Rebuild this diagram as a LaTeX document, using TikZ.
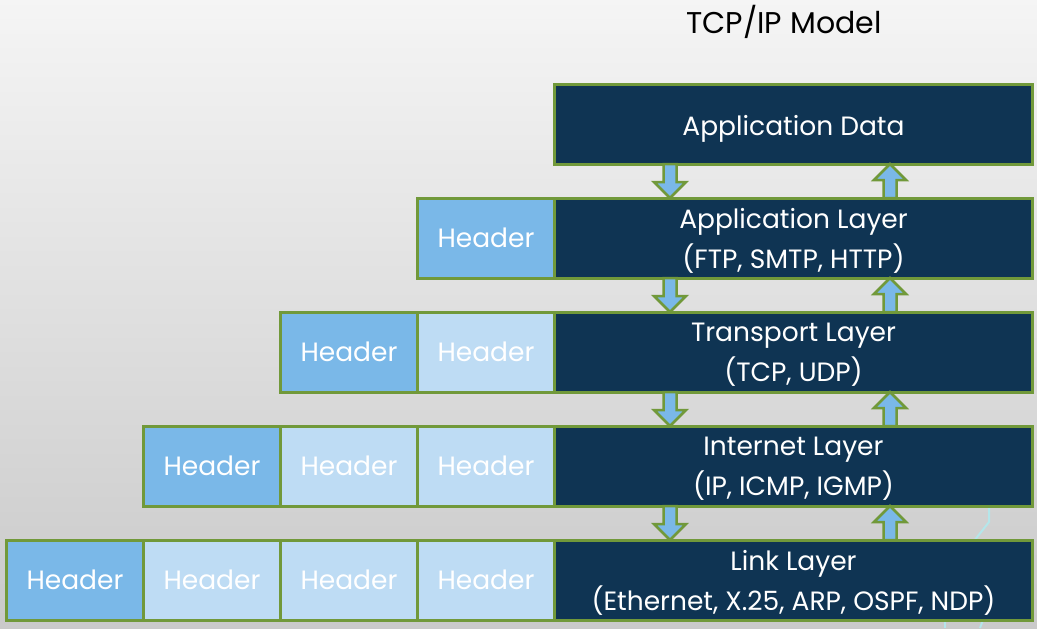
\documentclass[tikz,border=0pt]{standalone}
\usepackage{fontspec}
\setmainfont{Poppins}
\usetikzlibrary{positioning,calc}

\definecolor{navy}{HTML}{0F3453}
\definecolor{edge}{HTML}{71993A}
\definecolor{hdrblue}{HTML}{7AB8E8}
\definecolor{hdrpale}{HTML}{BEDCF4}
\definecolor{trace}{HTML}{B4E6EA}

\begin{document}
\begin{tikzpicture}[
  x=1pt, y=-1pt,
  box/.style={draw=edge, line width=3pt, text=white, minimum height=80pt,
    inner sep=0pt, outer sep=0pt, align=center, font=\fontsize{26.5}{40}\selectfont},
  layerbox/.style={box, fill=navy, minimum width=478pt, text depth=-1pt},
  hdr/.style={box, fill=hdrblue, minimum width=137pt},
  hdrlight/.style={hdr, fill=hdrpale},
  blockarrow/.style={draw=edge, fill=hdrblue, line width=2.5pt, line join=miter,
    to path={let \p1=(\tikztostart), \p2=(\tikztotarget), \p3=($(\tikztotarget)!16pt!(\tikztostart)$) in
      ({\x1-6.5pt},\y1) -- ({\x1-6.5pt},\y3) -- ({\x1-16pt},\y3) -- (\x2,\y2)
      -- ({\x1+16pt},\y3) -- ({\x1+6.5pt},\y3) -- ({\x1+6.5pt},\y1) -- cycle}}
]

% Background
\shade[top color=white!96!black, bottom color=black!21] (0,0) rectangle (1037,628);
\draw[trace, line width=2pt] (989,500) -- (989,522) -- (970,546);
\draw[trace, line width=2pt] (945,612) -- (945,628);
\draw[trace, line width=2pt] (986,612) -- (980,628);

% Title
\node[font=\fontsize{30}{31}\selectfont] (title) at (784,22) {TCP/IP Model};

% Layers
\node[box, fill=navy, minimum width=478pt, execute at begin node={\rule{0pt}{30pt}}] (data) at (793.5,124) {Application Data};
\node[layerbox, below=34pt of data] (appl) {Application Layer\\(FTP, SMTP, HTTP)};
\node[layerbox, below=34pt of appl] (trans) {Transport Layer\\(TCP, UDP)};
\node[layerbox, below=34pt of trans] (inet) {Internet Layer\\(IP, ICMP, IGMP)};
\node[layerbox, below=34pt of inet] (link) {Link Layer\\(Ethernet, X.25, ARP, OSPF, NDP)};

% Headers
\node[hdr, left=0pt of appl] (appl-h1) {Header};

\node[hdrlight, left=0pt of trans] (trans-h2) {Header};
\node[hdr, left=0pt of trans-h2] (trans-h1) {Header};

\node[hdrlight, left=0pt of inet] (inet-h3) {Header};
\node[hdrlight, left=0pt of inet-h3] (inet-h2) {Header};
\node[hdr, left=0pt of inet-h2] (inet-h1) {Header};

\node[hdrlight, left=0pt of link] (link-h4) {Header};
\node[hdrlight, left=0pt of link-h4] (link-h3) {Header};
\node[hdrlight, left=0pt of link-h3] (link-h2) {Header};
\node[hdr, left=0pt of link-h2] (link-h1) {Header};

% Down arrows (encapsulation)
\draw[blockarrow] ([xshift=-123.5pt]data.south) to ([xshift=-123.5pt]appl.north);
\draw[blockarrow] ([xshift=-123.5pt]appl.south) to ([xshift=-123.5pt]trans.north);
\draw[blockarrow] ([xshift=-123.5pt]trans.south) to ([xshift=-123.5pt]inet.north);
\draw[blockarrow] ([xshift=-123.5pt]inet.south) to ([xshift=-123.5pt]link.north);

% Up arrows (decapsulation)
\draw[blockarrow] ([xshift=96.5pt]appl.north) to ([xshift=96.5pt]data.south);
\draw[blockarrow] ([xshift=96.5pt]trans.north) to ([xshift=96.5pt]appl.south);
\draw[blockarrow] ([xshift=96.5pt]inet.north) to ([xshift=96.5pt]trans.south);
\draw[blockarrow] ([xshift=96.5pt]link.north) to ([xshift=96.5pt]inet.south);

\end{tikzpicture}
\end{document}
